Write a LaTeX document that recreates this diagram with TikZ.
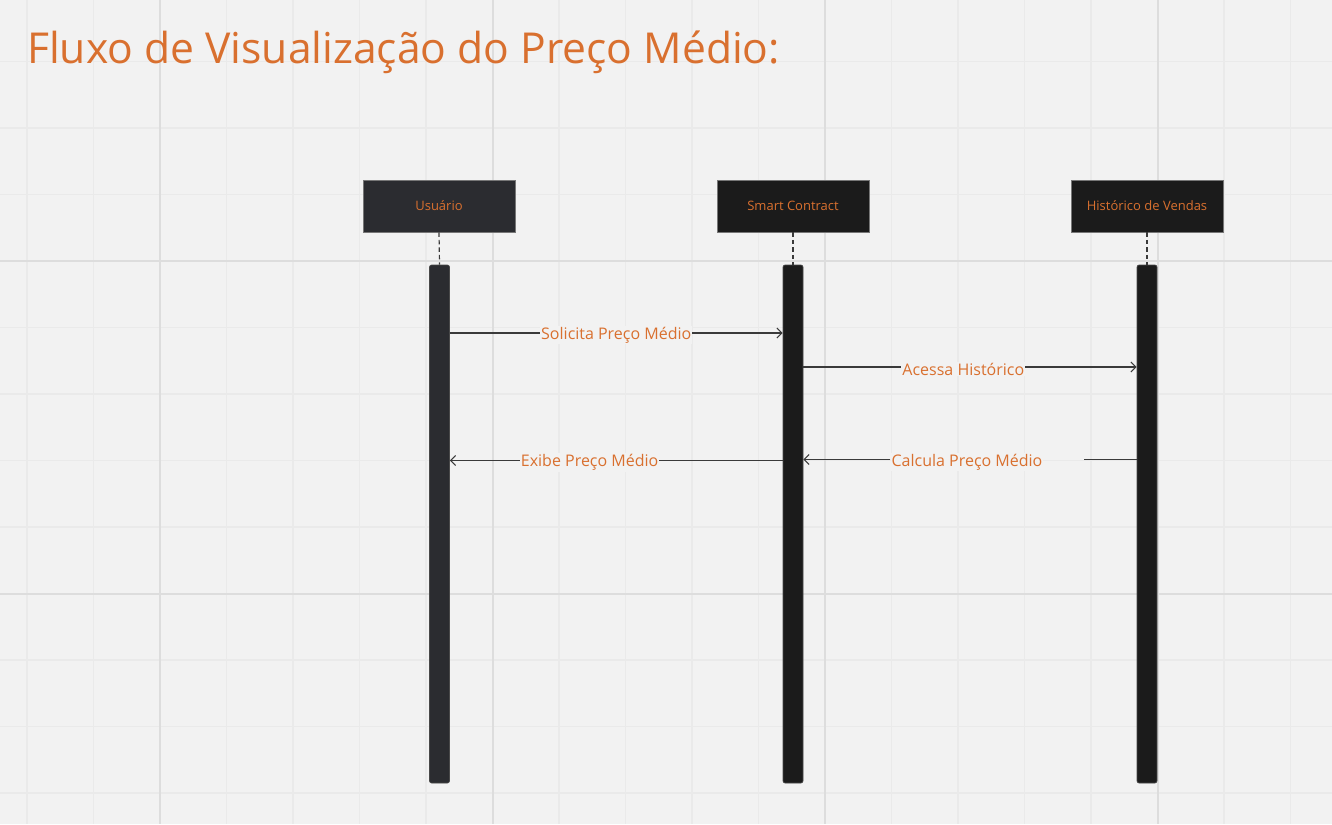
\documentclass[tikz,border=0pt]{standalone}
\usepackage{fontspec}
\setmainfont{Open Sans}
\usetikzlibrary{arrows.meta}
\definecolor{bg}{HTML}{F2F2F2}
\definecolor{gminor}{HTML}{EAEAEA}
\definecolor{gmajor}{HTML}{DDDDDD}
\definecolor{txt}{HTML}{D9702F}
\definecolor{boxa}{HTML}{2B2C30}
\definecolor{boxb}{HTML}{1B1B1B}
\definecolor{edge}{HTML}{777777}
\definecolor{line}{HTML}{3A3A3A}
\tikzset{
  actor/.style={draw=edge, line width=0.8pt, minimum width=152pt, minimum height=52pt, inner sep=0pt, text=txt, font=\fontsize{13}{15}\selectfont},
  bar/.style={draw=boxb!80!white, line width=0.6pt, rounded corners=2pt, minimum width=20pt, minimum height=518pt, inner sep=0pt},
  life/.style={draw=line, dashed, dash pattern=on 4.5pt off 3pt, line width=1.2pt},
  msg/.style={draw=line, line width=1.1pt, -{Straight Barb[length=5pt,width=10pt,line width=1.1pt]}},
  plain/.style={draw=line, line width=1.1pt},
  lbl/.style={fill=bg, text=txt, inner sep=1pt, yshift=-2pt, font=\fontsize{16}{18}\selectfont}
}
\begin{document}
\begin{tikzpicture}[x=1pt,y=-1pt]
\useasboundingbox (0,0) rectangle (1332,824);
\fill[bg] (0,0) rectangle (1332,824);
% minor grid
\foreach \k in {0,...,19} {
  \draw[gminor, line width=1.5pt] ({27+66.5*\k},0) -- ({27+66.5*\k},824);
}
\foreach \k in {0,...,11} {
  \draw[gminor, line width=1.5pt] (0,{61.5+66.5*\k}) -- (1332,{61.5+66.5*\k});
}
% major grid
\foreach \xx in {160,492.5,825,1157.5} {
  \draw[gmajor, line width=2pt] (\xx,0) -- (\xx,824);
}
\foreach \yy in {261,593.5} {
  \draw[gmajor, line width=2pt] (0,\yy) -- (1332,\yy);
}
% title
\node[anchor=base west, text=txt, font=\fontsize{42.6}{50}\selectfont, inner sep=0pt] (title) at (27,64) {Fluxo de Visualização do Preço Médio:};
% actors
\node[actor, fill=boxa] (u) at (439,206) {\raisebox{-1.5pt}{Usuário}};
\node[actor, fill=boxb] (s) at (793,206) {\raisebox{-1.5pt}{Smart Contract}};
\node[actor, fill=boxb] (h) at (1147,206) {\raisebox{-1.5pt}{Histórico de Vendas}};
% activation bars
\node[bar, fill=boxa] (ub) at (439.5,524) {};
\node[bar, fill=boxb] (sb) at (793,524) {};
\node[bar, fill=boxb] (hb) at (1147,524) {};
% lifelines
\draw[life] (u.south) -- (ub.north);
\draw[life] (s.south) -- (sb.north);
\draw[life] (h.south) -- (hb.north);
% messages
\draw[msg] (ub.east |- 0,333) -- node[lbl]{Solicita Preço Médio} (sb.west |- 0,333);
\draw[msg] (sb.east |- 0,367) -- node[lbl, pos=0.48]{Acessa Histórico} (hb.west |- 0,367);
\coordinate (cgap) at (1084,459.5);
\draw[plain] (hb.west |- 0,459.5) -- (cgap);
\node[lbl] (clbl) at (967,460) {Calcula Preço Médio};
\draw[msg] (clbl.west |- 0,459.5) -- (sb.east |- 0,459.5);
\draw[msg] (sb.west |- 0,460.5) -- node[lbl, pos=0.58]{Exibe Preço Médio} (ub.east |- 0,460.5);
\end{tikzpicture}
\end{document}
